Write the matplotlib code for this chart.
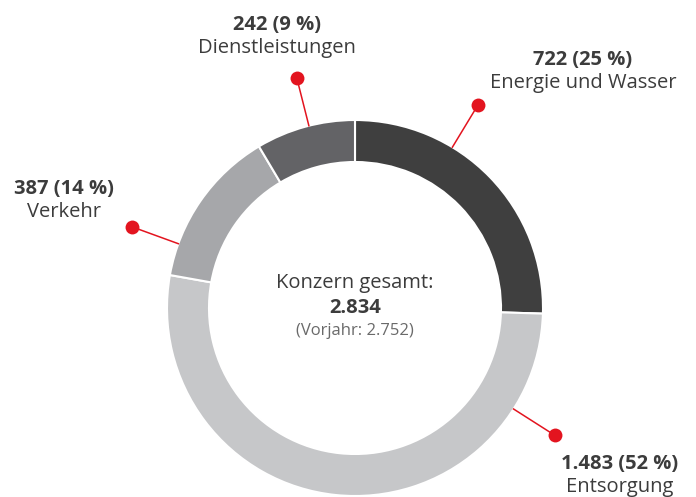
import numpy as np
import matplotlib.pyplot as plt

# ── Data ───────────────────────────────────────────────────────
segments = ["Energie und Wasser", "Entsorgung", "Verkehr", "Dienstleistungen"]
values = [722, 1483, 387, 242]
value_labels = ["722", "1.483", "387", "242"]
shares = ["25 %", "52 %", "14 %", "9 %"]
total_label = "2.834"
prior_label = "2.752"

colors = ["#3f3f3f", "#c6c7c9", "#a6a7aa", "#636366"]
RED = "#e3141f"
TEXT = "#3c3c3c"

# leader angle (deg) and label anchor per segment (layout only)
leader_angles = [58.8, -32.5, 160.0, 104.2]
label_pos = [(583, 60), (620, 464), (64, 189), (277, 25)]

W, H = 696, 497
cx, cy = 355, H - 308
R_OUT, RING = 188, 42
R_DOT = 237

plt.rcParams["font.family"] = ["Open Sans", "DejaVu Sans"]

fig = plt.figure(figsize=(W / 100, H / 100), dpi=100)
ax = fig.add_axes([0, 0, 1, 1])

ax.pie(values, colors=colors, startangle=90, counterclock=False,
       center=(cx, cy), radius=R_OUT,
       wedgeprops=dict(width=RING, edgecolor="white", linewidth=1.5))

for ang, (lx, ly), val, sh, name in zip(leader_angles, label_pos,
                                         value_labels, shares, segments):
    a = np.deg2rad(ang)
    x0, y0 = cx + R_OUT * np.cos(a), cy + R_OUT * np.sin(a)
    x1, y1 = cx + R_DOT * np.cos(a), cy + R_DOT * np.sin(a)
    ax.plot([x0, x1], [y0, y1], color=RED, lw=1.1, zorder=3)
    ax.plot(x1, y1, "o", color=RED, ms=10, mec="none", zorder=4)
    ax.text(lx, H - ly, f"{val} ({sh})", ha="center", va="center",
            fontsize=14.5, fontweight="bold", color=TEXT)
    ax.text(lx, H - ly - 23, name, ha="center", va="center",
            fontsize=14.5, color=TEXT)

# centre text
ax.text(cx, H - 283, "Konzern gesamt:", ha="center", va="center",
        fontsize=14.5, color=TEXT)
ax.text(cx, H - 308, total_label, ha="center", va="center",
        fontsize=14.5, fontweight="bold", color=TEXT)
ax.text(cx, H - 331, f"(Vorjahr: {prior_label})", ha="center", va="center",
        fontsize=12, color="#6a6a6a")

ax.set_xlim(0, W)
ax.set_ylim(0, H)
ax.set_aspect("auto")
ax.axis("off")

fig.savefig("out.png", dpi=100)
